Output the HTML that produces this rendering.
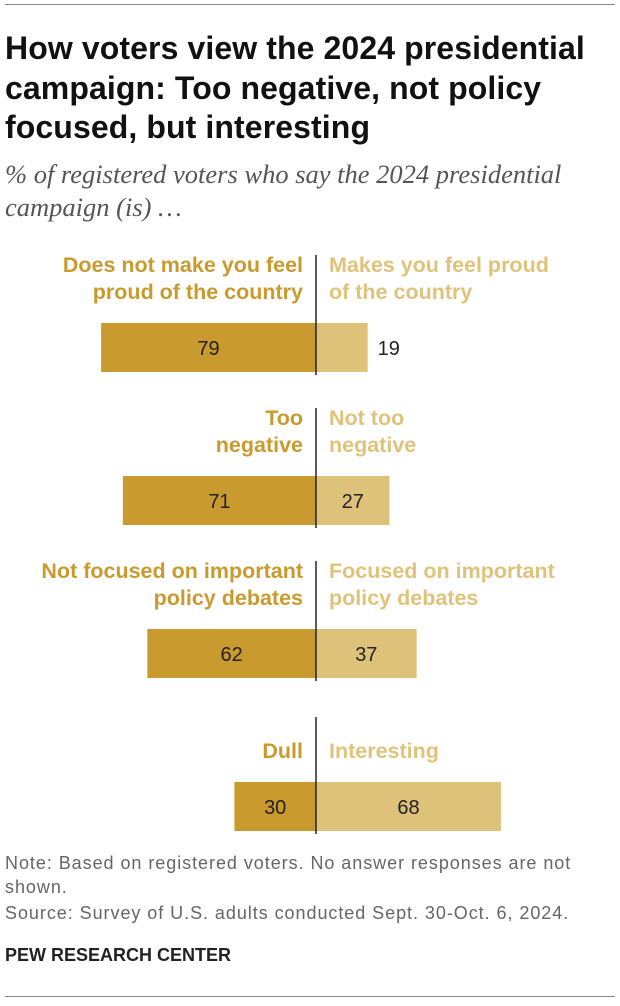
<!DOCTYPE html>
<html><head><meta charset="utf-8"><style>
body{margin:0;width:620px;height:1006px;background:#fff;font-family:"Liberation Sans",sans-serif;position:relative;overflow:hidden}
.abs{position:absolute}
.title{left:5px;top:29px;font-size:32px;letter-spacing:0.1px;font-weight:bold;line-height:39.5px;color:#111;width:615px;white-space:nowrap}
.sub{left:5px;top:158px;font-size:26.5px;font-style:italic;line-height:33px;color:#555;font-family:"Liberation Serif",serif;white-space:nowrap}
.note{left:5px;font-size:18px;letter-spacing:0.95px;color:#666;line-height:24px;white-space:nowrap}
</style></head><body>
<div class="abs" style="left:5px;top:4px;width:610px;height:1px;background:#888"></div>
<div class="abs title">How voters view the 2024 presidential<br>campaign: Too negative, not policy<br>focused, but interesting</div>
<div class="abs sub">% of registered voters who say the 2024 presidential<br>campaign (is) …</div>
<svg class="abs" style="left:0;top:0" width="620" height="1006" id="chart"></svg>
<div class="abs note" style="top:851px">Note: Based on registered voters. No answer responses are not<br>shown.</div>
<div class="abs note" style="top:901px">Source: Survey of U.S. adults conducted Sept. 30-Oct. 6, 2024.</div>
<div class="abs" style="left:5px;top:945px;font-size:18px;font-weight:bold;color:#222">PEW RESEARCH CENTER</div>
<div class="abs" style="left:5px;top:996px;width:610px;height:1px;background:#888"></div>
<script>
const leftLabels=[["Does not make you feel","proud of the country"],["Too","negative"],["Not focused on important","policy debates"],["Dull"]];
const rightLabels=[["Makes you feel proud","of the country"],["Not too","negative"],["Focused on important","policy debates"],["Interesting"]];
const leftValues=[79,71,62,30];
const rightValues=[19,27,37,68];
const svg=document.getElementById('chart');
const NS='http://www.w3.org/2000/svg';
const cx=316, k=2.72;
const x=v=>v*k;
const rowTop=i=>255+i*153;
function el(t,a,txt){const e=document.createElementNS(NS,t);for(const n in a)e.setAttribute(n,a[n]);if(txt!=null)e.textContent=txt;svg.appendChild(e);return e;}
leftValues.forEach((lv,i)=>{
  const top=rowTop(i);
  const single=leftLabels[i].length===1;
  const by=top+68;
  const lt=single?top+27:top;
  leftLabels[i].forEach((s,j)=>{
    const t=el('text',{x:cx-13,y:lt+17+j*27,'text-anchor':'end','font-size':21.5,'font-weight':'bold',fill:'#c99a2e'},s);
    
    
  });
  rightLabels[i].forEach((s,j)=>{
    const t=el('text',{x:cx+13,y:lt+17+j*27,'font-size':21.5,'font-weight':'bold',fill:'#e0c37a'},s);
    
    
  });
  const r1=el('rect',{x:cx-x(lv),y:by,width:x(lv),height:49,fill:'#c99a2e'});
  
  
  const rv=rightValues[i];
  const r2=el('rect',{x:cx,y:by,width:x(rv),height:49,fill:'#dfc27a'});
  
  
  const t1=el('text',{x:cx-x(lv)/2,y:by+32,'text-anchor':'middle','font-size':20,fill:'#222'},lv);
  
  
  const inside=x(rv)>60;
  const t2=el('text',{x:inside?cx+x(rv)/2:cx+x(rv)+10,y:by+32,'text-anchor':inside?'middle':'start','font-size':20,fill:'#222'},rv);
  
  
  const ln=el('line',{x1:cx,x2:cx,y1:single?top+3:top,y2:by+52,stroke:'#222','stroke-width':1.5});
  
  
});
</script>
</body></html>
